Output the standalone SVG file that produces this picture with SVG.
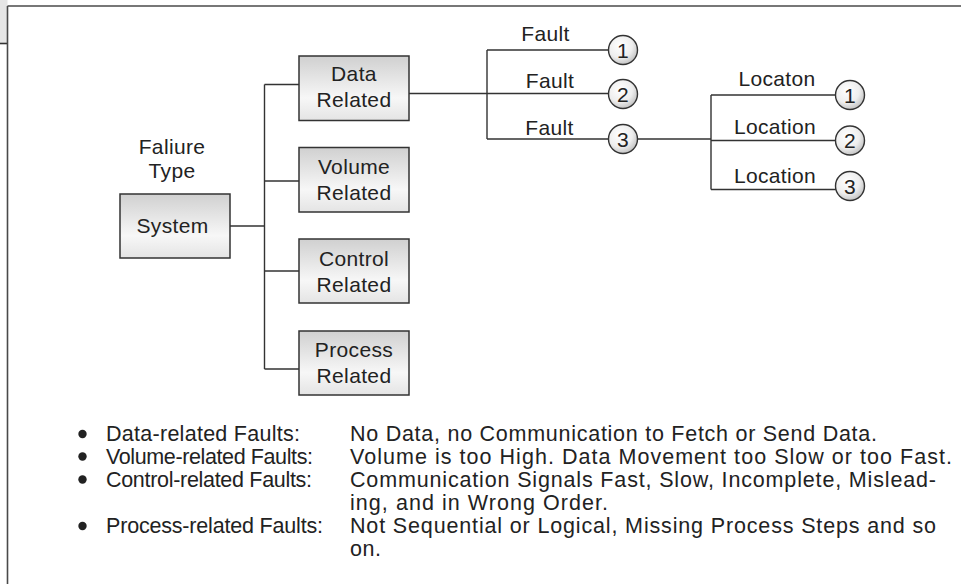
<svg xmlns="http://www.w3.org/2000/svg" width="961" height="584" viewBox="0 0 961 584">
<defs>
<linearGradient id="boxg" x1="0" y1="0" x2="0" y2="1">
<stop offset="0" stop-color="#d0d0d0"/>
<stop offset="0.65" stop-color="#f7f7f7"/>
<stop offset="1" stop-color="#e4e4e4"/>
</linearGradient>
<radialGradient id="cirg" cx="0.4" cy="0.35" r="0.7">
<stop offset="0" stop-color="#ffffff"/>
<stop offset="0.6" stop-color="#eeeeee"/>
<stop offset="1" stop-color="#bdbdbd"/>
</radialGradient>
</defs>
<style>
.t{font-family:"Liberation Sans",Arial,sans-serif;font-size:21px;fill:#222;letter-spacing:0.35px}
.m{text-anchor:middle}
.box{fill:url(#boxg);stroke:#333;stroke-width:1.5}
.cir{fill:url(#cirg);stroke:#333;stroke-width:1.4}
.ln{fill:none;stroke:#333;stroke-width:1.4}
.bt{font-family:"Liberation Sans",Arial,sans-serif;font-size:21.5px;fill:#222}
</style>
<rect width="961" height="584" fill="#fff"/>
<g id="frame">
<rect x="0" y="0" width="7.5" height="44" fill="#e6e6e6"/>
<line x1="0" y1="43.5" x2="7.5" y2="43.5" stroke="#333" stroke-width="1.6"/>
<line x1="7.5" y1="6" x2="961" y2="6" stroke="#4a4a4a" stroke-width="1.6"/>
<line x1="7.5" y1="6" x2="7.5" y2="584" stroke="#4a4a4a" stroke-width="1.6"/>
</g>
<g id="connectors">
<path class="ln" d="M230 226 H264.5 M264.5 84.5 V369 M264.5 84.5 H299 M264.5 181 H299 M264.5 271 H299 M264.5 369 H299"/>
<path class="ln" d="M409 93.5 H487 M487 50 V139 M487 50 H609 M487 93.5 H609 M487 139 H609"/>
<path class="ln" d="M637 139 H711 M711 95 V189.5 M711 95 H835.5 M711 140.5 H835.5 M711 189.5 H836"/>
</g>
<g id="label-failure-type">
<text class="t m" x="172" y="154">Faliure</text>
<text class="t m" x="172" y="178">Type</text>
</g>
<g id="node-system">
<rect class="box" x="120" y="194" width="110" height="64"/>
<text class="t m" x="172.5" y="233">System</text>
</g>
<g id="node-data">
<rect class="box" x="299" y="56" width="110" height="64.5"/>
<text class="t m" x="354" y="81">Data</text>
<text class="t m" x="354" y="107">Related</text>
</g>
<g id="node-volume">
<rect class="box" x="299" y="147.5" width="110" height="64.5"/>
<text class="t m" x="354" y="174">Volume</text>
<text class="t m" x="354" y="200">Related</text>
</g>
<g id="node-control">
<rect class="box" x="299" y="239" width="110" height="64"/>
<text class="t m" x="354" y="266">Control</text>
<text class="t m" x="354" y="292">Related</text>
</g>
<g id="node-process">
<rect class="box" x="299" y="331" width="110" height="64"/>
<text class="t m" x="354" y="357">Process</text>
<text class="t m" x="354" y="383">Related</text>
</g>
<g id="fault-1">
<text class="t m" x="545.5" y="41">Fault</text>
<circle class="cir" cx="623" cy="50" r="14.5"/>
<text class="t m" x="623" y="57.5">1</text>
</g>
<g id="fault-2">
<text class="t m" x="550" y="87.5">Fault</text>
<circle class="cir" cx="623" cy="94" r="14.5"/>
<text class="t m" x="623" y="101.5">2</text>
</g>
<g id="fault-3">
<text class="t m" x="549.5" y="135">Fault</text>
<circle class="cir" cx="623" cy="139" r="14.5"/>
<text class="t m" x="623" y="146.5">3</text>
</g>
<g id="location-1">
<text class="t m" x="777" y="86">Locaton</text>
<circle class="cir" cx="850" cy="95" r="14.5"/>
<text class="t m" x="850" y="102.5">1</text>
</g>
<g id="location-2">
<text class="t m" x="775" y="134">Location</text>
<circle class="cir" cx="850" cy="140.5" r="14.5"/>
<text class="t m" x="850" y="148">2</text>
</g>
<g id="location-3">
<text class="t m" x="775" y="182.5">Location</text>
<circle class="cir" cx="850" cy="186" r="14.5"/>
<text class="t m" x="850" y="193.5">3</text>
</g>
<g id="legend">
<circle cx="82.5" cy="434" r="4.2" fill="#222"/>
<circle cx="82.5" cy="456.5" r="4.2" fill="#222"/>
<circle cx="82.5" cy="479.5" r="4.2" fill="#222"/>
<circle cx="82.5" cy="526" r="4.2" fill="#222"/>
<text class="bt" x="106" y="441" textLength="194" lengthAdjust="spacing">Data-related Faults:</text>
<text class="bt" x="106" y="463.5" textLength="207" lengthAdjust="spacing">Volume-related Faults:</text>
<text class="bt" x="106" y="486.5" textLength="206" lengthAdjust="spacing">Control-related Faults:</text>
<text class="bt" x="106" y="533" textLength="217" lengthAdjust="spacing">Process-related Faults:</text>
<text class="bt" x="350" y="441" textLength="527" lengthAdjust="spacing">No Data, no Communication to Fetch or Send Data.</text>
<text class="bt" x="350" y="463.5" textLength="602" lengthAdjust="spacing">Volume is too High. Data Movement too Slow or too Fast.</text>
<text class="bt" x="350" y="486.5" textLength="586" lengthAdjust="spacing">Communication Signals Fast, Slow, Incomplete, Mislead-</text>
<text class="bt" x="350" y="509.5" textLength="258" lengthAdjust="spacing">ing, and in Wrong Order.</text>
<text class="bt" x="350" y="533" textLength="586" lengthAdjust="spacing">Not Sequential or Logical, Missing Process Steps and so</text>
<text class="bt" x="350" y="556" textLength="31" lengthAdjust="spacing">on.</text>
</g>
</svg>
